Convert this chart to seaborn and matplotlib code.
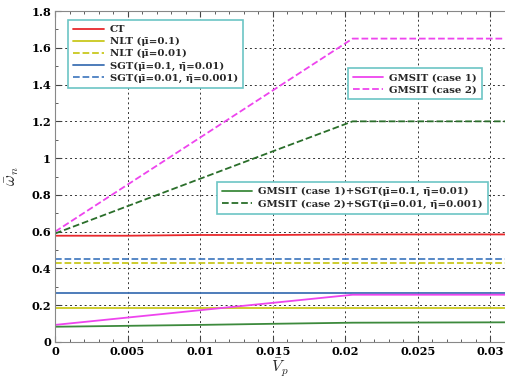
import numpy as np
import pandas as pd
import matplotlib
matplotlib.use("Agg")
import matplotlib.pyplot as plt
import seaborn as sns
from matplotlib.ticker import MultipleLocator, FormatStrFormatter

# ---- data ----
vp = [0, 0.005, 0.01, 0.015, 0.0205, 0.031]
ct = [0.578, 0.578, 0.582, 0.582, 0.585, 0.585]
nlt_01 = [0.184, 0.184, 0.184, 0.184, 0.184, 0.184]
nlt_001 = [0.428, 0.428, 0.428, 0.428, 0.428, 0.428]
sgt_1 = [0.268, 0.268, 0.268, 0.268, 0.268, 0.268]
sgt_2 = [0.449, 0.449, 0.449, 0.449, 0.449, 0.449]
gms_1 = [0.093, 0.133, 0.173, 0.213, 0.257, 0.257]
gms_2 = [0.60, 0.856, 1.112, 1.368, 1.65, 1.65]
gmsgt_1 = [0.083, 0.088, 0.093, 0.099, 0.105, 0.107]
gmsgt_2 = [0.59, 0.739, 0.888, 1.037, 1.20, 1.20]

labels = ["CT", "NLT (μ̄=0.1)", "NLT (μ̄=0.01)", "SGT(μ̄=0.1, η̄=0.01)",
          "SGT(μ̄=0.01, η̄=0.001)", "GMSIT (case 1)", "GMSIT (case 2)",
          "GMSIT (case 1)+SGT(μ̄=0.1, η̄=0.01)",
          "GMSIT (case 2)+SGT(μ̄=0.01, η̄=0.001)"]
series = [ct, nlt_01, nlt_001, sgt_1, sgt_2, gms_1, gms_2, gmsgt_1, gmsgt_2]
colors = ["#e8282c", "#c9c81e", "#c9c81e", "#3f72b4", "#4a7fc2",
          "#ee44ee", "#ee44ee", "#3d8a3d", "#2a6e2a"]
styles = ["-", "-", "--", "-", "--", "-", "--", "-", "--"]

sns.set_theme(style="white")
plt.rcParams["font.family"] = ["DejaVu Serif"]
plt.rcParams["font.weight"] = "bold"
plt.rcParams["mathtext.fontset"] = "cm"

fig = plt.figure(figsize=(5.05, 3.8), dpi=100)
ax = fig.add_axes([0.109, 0.1, 0.891, 0.871])

handles = []
for lab, ys, c, ls in zip(labels, series, colors, styles):
    df = pd.DataFrame({"x": vp, "y": ys})
    sns.lineplot(data=df, x="x", y="y", ax=ax, color=c, linestyle=ls,
                 linewidth=1.3, legend=False)
    handles.append(ax.lines[-1])

ax.set_xlim(0, 0.031)
ax.set_ylim(0, 1.8)
ax.xaxis.set_major_locator(MultipleLocator(0.005))
ax.xaxis.set_minor_locator(MultipleLocator(0.001))
ax.yaxis.set_major_locator(MultipleLocator(0.2))
ax.yaxis.set_minor_locator(MultipleLocator(0.1))
ax.xaxis.set_major_formatter(FormatStrFormatter("%g"))
ax.yaxis.set_major_formatter(FormatStrFormatter("%g"))
ax.tick_params(which="both", direction="in", top=True, right=False,
               bottom=True, left=True, labelsize=8.2, colors="#444444",
               labelcolor="black", pad=3)
ax.tick_params(which="major", length=4, width=0.8)
ax.tick_params(which="minor", length=2, width=0.6)
for t in ax.get_xticklabels() + ax.get_yticklabels():
    t.set_fontweight("bold")
ax.grid(True, which="major", linestyle=(0, (2, 3)), color="#333333", linewidth=0.7)
for s in ["left", "bottom", "top"]:
    ax.spines[s].set_color("#888888")
    ax.spines[s].set_linewidth(0.8)
ax.spines["right"].set_visible(False)

ax.set_xlabel(r"$\bar{V}_p$", fontsize=11.5)
ax.xaxis.set_label_coords(0.5, -0.045)
ax.set_ylabel(r"$\bar{\omega}_n$", fontsize=12)
ax.yaxis.set_label_coords(-0.075, 0.5)

legkw = dict(frameon=True, fancybox=False, framealpha=1, edgecolor="#6cc5c5",
             prop={"size": 7.3, "weight": "bold"}, borderaxespad=0,
             handlelength=3.0, labelspacing=0.3, borderpad=0.5, handletextpad=0.6)
l1 = ax.legend(handles[:5], labels[:5], loc="upper left",
               bbox_to_anchor=(0.029, 0.973), **legkw)
ax.add_artist(l1)
l2 = ax.legend(handles[5:7], labels[5:7], loc="upper right",
               bbox_to_anchor=(0.949, 0.828), **legkw)
ax.add_artist(l2)
l3 = ax.legend(handles[7:], labels[7:], loc="upper right",
               bbox_to_anchor=(0.962, 0.483), **legkw)
for lg in (l1, l2, l3):
    lg.get_frame().set_linewidth(1.2)

fig.savefig("out.png", dpi=100)
